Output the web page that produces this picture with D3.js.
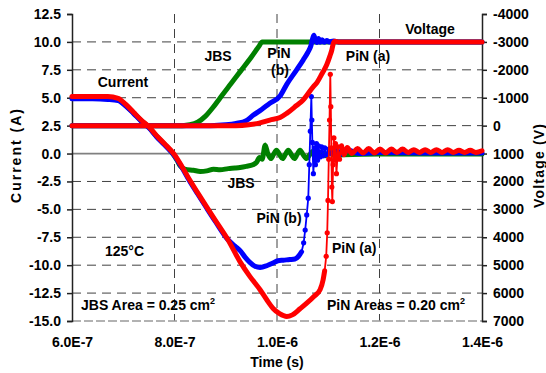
<!DOCTYPE html>
<html>
<head>
<meta charset="utf-8">
<script src="https://cdn.jsdelivr.net/npm/d3@7"></script>
<style>
body { margin: 0; background: #fff; }
text { font-family: "Liberation Sans", Arial, sans-serif; font-weight: bold; font-size: 14px; fill: #000; }
</style>
</head>
<body>
<script>
'use strict';

// time values are in ns
var timeTicks = [600, 800, 1000, 1200, 1400];
var currentTicks = [-15, -12.5, -10, -7.5, -5, -2.5, 0, 2.5, 5, 7.5, 10, 12.5];
var voltageTicks = [-4000, -3000, -2000, -1000, 0, 1000, 2000, 3000, 4000, 5000, 6000, 7000];

var jbsCurrent = [[600,5.0],[640,5.0],[670,5.0],[690,4.85],[705,4.3],[720,3.65],[735,2.95],[750,2.35],[765,1.55],[780,0.85],
  [795,0.1],[805,-0.6],[811,-1.1],[820,-1.4],[837,-1.5],[850,-1.6],[863,-1.55],[876,-1.4],[889,-1.45],[905,-1.35],
  [918,-1.3],[928,-1.25],[940,-1.15],[953,-1.0],[960,-0.8],[966,-0.35],[971,-0.5],[977,0.75],[982,0.0],[988,-0.45],
  [993,-0.1],[999,0.3],[1005,-0.1],[1011,-0.45],[1016,-0.1],[1022,0.3],[1028,-0.1],[1034,-0.45],[1039,-0.1],[1045,0.3],
  [1051,-0.1],[1058,-0.45],[1064,-0.1],[1070,0.2],[1078,-0.3],[1086,0.1],[1094,-0.2],[1102,0.1],[1110,-0.15],[1130,-0.1],
  [1200,-0.05],[1300,-0.05],[1400,-0.05]];

var pinBCurrent = [[600,4.9],[640,4.9],[670,4.85],[690,4.75],[705,4.25],[720,3.6],[735,2.9],[750,2.3],[765,1.5],[780,0.8],
  [800,-0.2],[815,-1.3],[830,-2.5],[845,-3.6],[863,-4.9],[880,-6.1],[904,-7.7],[918,-8.3],[928,-8.7],[938,-9.3],
  [947,-9.75],[957,-10.1],[967,-10.2],[980,-10.05],[992,-9.8],[1002,-9.6],[1012,-9.55],[1025,-9.5],[1035,-9.45],[1042,-9.2],
  [1048,-8.8],[1052,-8.0],[1055,-6.85],[1058,-5.5],[1061,-4.0],[1063,-1.0],[1065,2.0],[1067,5.1],[1068,3.0],[1069,1.0],
  [1071,-1.8],[1073,0.5],[1075,-1.0],[1077,0.9],[1079,-0.6],[1081,0.7],[1084,-0.3],[1087,0.6],[1090,-0.2],[1093,0.5],
  [1097,-0.1],[1101,0.4],[1105,0.0],[1115,0.35],[1126,-0.05],[1140,0.3],[1160,0.0],[1200,0.1],[1300,0.05],[1400,0.05]];

var pinACurrent = [[600,5.1],[640,5.1],[670,5.1],[690,4.95],[705,4.4],[720,3.7],[735,3.0],[750,2.4],[765,1.6],[780,0.9],
  [800,-0.1],[815,-1.2],[830,-2.4],[845,-3.5],[863,-4.8],[880,-6.0],[904,-7.7],[928,-9.7],[947,-11.0],[967,-12.2],
  [980,-13.1],[993,-13.9],[1005,-14.35],[1019,-14.6],[1030,-14.45],[1045,-13.9],[1058,-13.4],[1072,-12.8],[1084,-12.2],[1090,-11.3],
  [1093,-10.5],[1096,-9.2],[1098,-7.1],[1099.5,-4.2],[1101,-0.5],[1102.5,3.0],[1104,7.1],[1105,4.2],[1106,0.5],[1107,-3.0],
  [1108,-4.3],[1109.5,-1.0],[1111,1.4],[1112.5,-0.6],[1114,0.9],[1116,-1.8],[1119,0.6],[1122,-0.5],[1126,0.7],[1131,-0.1],
  [1137,0.55],[1146,0.0],[1157,0.45],[1168,0.05],[1179,0.45],[1190,0.05],[1201,0.4],[1212,0.05],[1223,0.4],[1234,0.1],
  [1245,0.4],[1256,0.1],[1267,0.35],[1278,0.1],[1289,0.35],[1300,0.1],[1311,0.35],[1322,0.1],[1333,0.35],[1344,0.1],
  [1355,0.3],[1366,0.1],[1377,0.3],[1388,0.1],[1400,0.25]];

var jbsVoltage = [[600,0],[700,0],[815,0],[830,-30],[845,-120],[860,-330],[875,-650],[890,-1020],[910,-1500],[930,-1980],
  [950,-2460],[965,-2850],[971,-3000],[1000,-3000],[1400,-3000]];

var pinBVoltage = [[600,0],[870,0],[900,-30],[920,-80],[940,-180],[954,-380],[970,-580],[986,-800],[1006,-1060],[1019,-1480],
  [1038,-1990],[1051,-2350],[1060,-2620],[1066,-2850],[1070,-3150],[1072,-3240],[1075,-3050],[1078,-2980],[1081,-3120],[1084,-2990],
  [1088,-3080],[1092,-2990],[1097,-3050],[1102,-3000],[1110,-3030],[1120,-3000],[1400,-3000]];

var pinAVoltage = [[600,0],[920,0],[945,-30],[965,-90],[986,-200],[1006,-290],[1019,-440],[1038,-720],[1051,-920],[1071,-1400],
  [1077,-1520],[1088,-1870],[1097,-2180],[1103,-2480],[1107,-2710],[1110,-2950],[1113,-3020],[1120,-3000],[1400,-3000]];

var width = 546;
var height = 373;
var plotLeft = 72, plotRight = 482, plotTop = 14, plotBottom = 321;

var svg = d3.select('body').append('svg').attr('width', width).attr('height', height);

var x = d3.scaleLinear().domain([600, 1400]).range([plotLeft, plotRight]);
var yI = d3.scaleLinear().domain([-15, 12.5]).range([plotBottom, plotTop]);
var yV = d3.scaleLinear().domain([7000, -4000]).range([plotBottom, plotTop]);

// grid
var grid = svg.append('g').attr('stroke', '#404040').attr('stroke-width', 1).attr('stroke-dasharray', '9,6');
grid.selectAll('.hg').data(currentTicks.filter(function (d) { return d !== 0 && d !== 12.5 && d !== -15; }))
  .enter().append('line')
  .attr('x1', plotLeft).attr('x2', plotRight)
  .attr('y1', function (d) { return yI(d); }).attr('y2', function (d) { return yI(d); });
grid.selectAll('.vg').data(timeTicks.slice(1, -1))
  .enter().append('line')
  .attr('y1', plotTop).attr('y2', plotBottom)
  .attr('x1', function (d) { return x(d); }).attr('x2', function (d) { return x(d); });
svg.append('line').attr('x1', plotLeft).attr('x2', plotRight).attr('y1', plotBottom).attr('y2', plotBottom)
  .attr('stroke', '#999').attr('stroke-width', 1.5).attr('stroke-dasharray', '9,3');
svg.append('line').attr('x1', plotLeft).attr('x2', plotRight).attr('y1', yI(0)).attr('y2', yI(0))
  .attr('stroke', '#808080').attr('stroke-width', 1.8);

// axes
var axL = svg.append('g').attr('transform', 'translate(' + plotLeft + ',0)')
  .call(d3.axisLeft(yI).tickValues(currentTicks).tickSize(5).tickPadding(6).tickFormat(function (d) { return d.toFixed(1); }));
var axR = svg.append('g').attr('transform', 'translate(' + plotRight + ',0)')
  .call(d3.axisRight(yV).tickValues(voltageTicks).tickSize(5).tickPadding(6).tickFormat(function (d) { return String(d); }));
var axB = svg.append('g').attr('transform', 'translate(0,' + plotBottom + ')')
  .call(d3.axisBottom(x).tickValues(timeTicks).tickSize(0).tickPadding(16)
    .tickFormat(function (d) { return (d * 1e-9).toExponential(1).toUpperCase(); }));
[axL, axR, axB].forEach(function (a) {
  a.attr('font-family', null).attr('font-size', null);
});
axB.select('.domain').remove();
axL.select('.domain').attr('stroke', '#222').attr('stroke-width', 1.5);
axR.select('.domain').attr('stroke', '#222').attr('stroke-width', 1.5);
axL.selectAll('.tick line').attr('stroke', '#222').attr('stroke-width', 1.5);
axR.selectAll('.tick line').attr('stroke', '#222').attr('stroke-width', 1.5);

// series
function drawSeries(data, scale, color, thinFrom, thinTo) {
  var thick = d3.line()
    .defined(function (d) { return d[0] <= thinFrom || d[0] >= thinTo; })
    .x(function (d) { return x(d[0]); })
    .y(function (d) { return scale(d[1]); })
    .curve(d3.curveMonotoneX);
  var thin = d3.line()
    .x(function (d) { return x(d[0]); })
    .y(function (d) { return scale(d[1]); });
  var g = svg.append('g');
  g.append('path').attr('d', thin(data)).attr('fill', 'none').attr('stroke', color).attr('stroke-width', 1.8);
  g.append('path').attr('d', thick(data)).attr('fill', 'none').attr('stroke', color)
    .attr('stroke-width', 5).attr('stroke-linejoin', 'round').attr('stroke-linecap', 'round');
  g.selectAll('circle').data(data.filter(function (d) { return d[0] > thinFrom && d[0] < thinTo; }))
    .enter().append('circle')
    .attr('cx', function (d) { return x(d[0]); })
    .attr('cy', function (d) { return scale(d[1]); })
    .attr('r', 2.6).attr('fill', color);
}

drawSeries(jbsVoltage, yV, '#008000', 9999, 9999);
drawSeries(jbsCurrent, yI, '#008000', 9999, 9999);
drawSeries(pinBVoltage, yV, '#0000ff', 9999, 9999);
drawSeries(pinBCurrent, yI, '#0000ff', 1050, 1105);
drawSeries(pinAVoltage, yV, '#ff0000', 9999, 9999);
drawSeries(pinACurrent, yI, '#ff0000', 1093, 1124);

// labels
function label(txt, xx, yy, anchor) {
  return svg.append('text').attr('x', xx).attr('y', yy).attr('text-anchor', anchor || 'middle').text(txt);
}
label('Current', 123, 87);
label('JBS', 218, 61);
label('PiN', 279, 58);
label('(b)', 280, 75);
label('PiN (a)', 368, 61);
label('Voltage', 430, 34);
label('JBS', 241, 188);
label('PiN (b)', 279, 223);
label('PiN (a)', 332, 253, 'start');
label('125°C', 105, 256, 'start');

var a1 = label('JBS Area = 0.25 cm', 81, 310, 'start');
a1.append('tspan').attr('dy', -6).style('font-size', '9px').text('2');
var a2 = label('PiN Areas = 0.20 cm', 327, 310, 'start');
a2.append('tspan').attr('dy', -6).style('font-size', '9px').text('2');

label('Time (s)', 277, 367);
svg.append('text').attr('transform', 'translate(21,156) rotate(-90)').attr('text-anchor', 'middle')
  .attr('textLength', 94).attr('lengthAdjust', 'spacing').text('Current (A)');
svg.append('text').attr('transform', 'translate(544,166) rotate(-90)').attr('text-anchor', 'middle')
  .attr('textLength', 84).attr('lengthAdjust', 'spacing').text('Voltage (V)');
</script>
</body>
</html>
